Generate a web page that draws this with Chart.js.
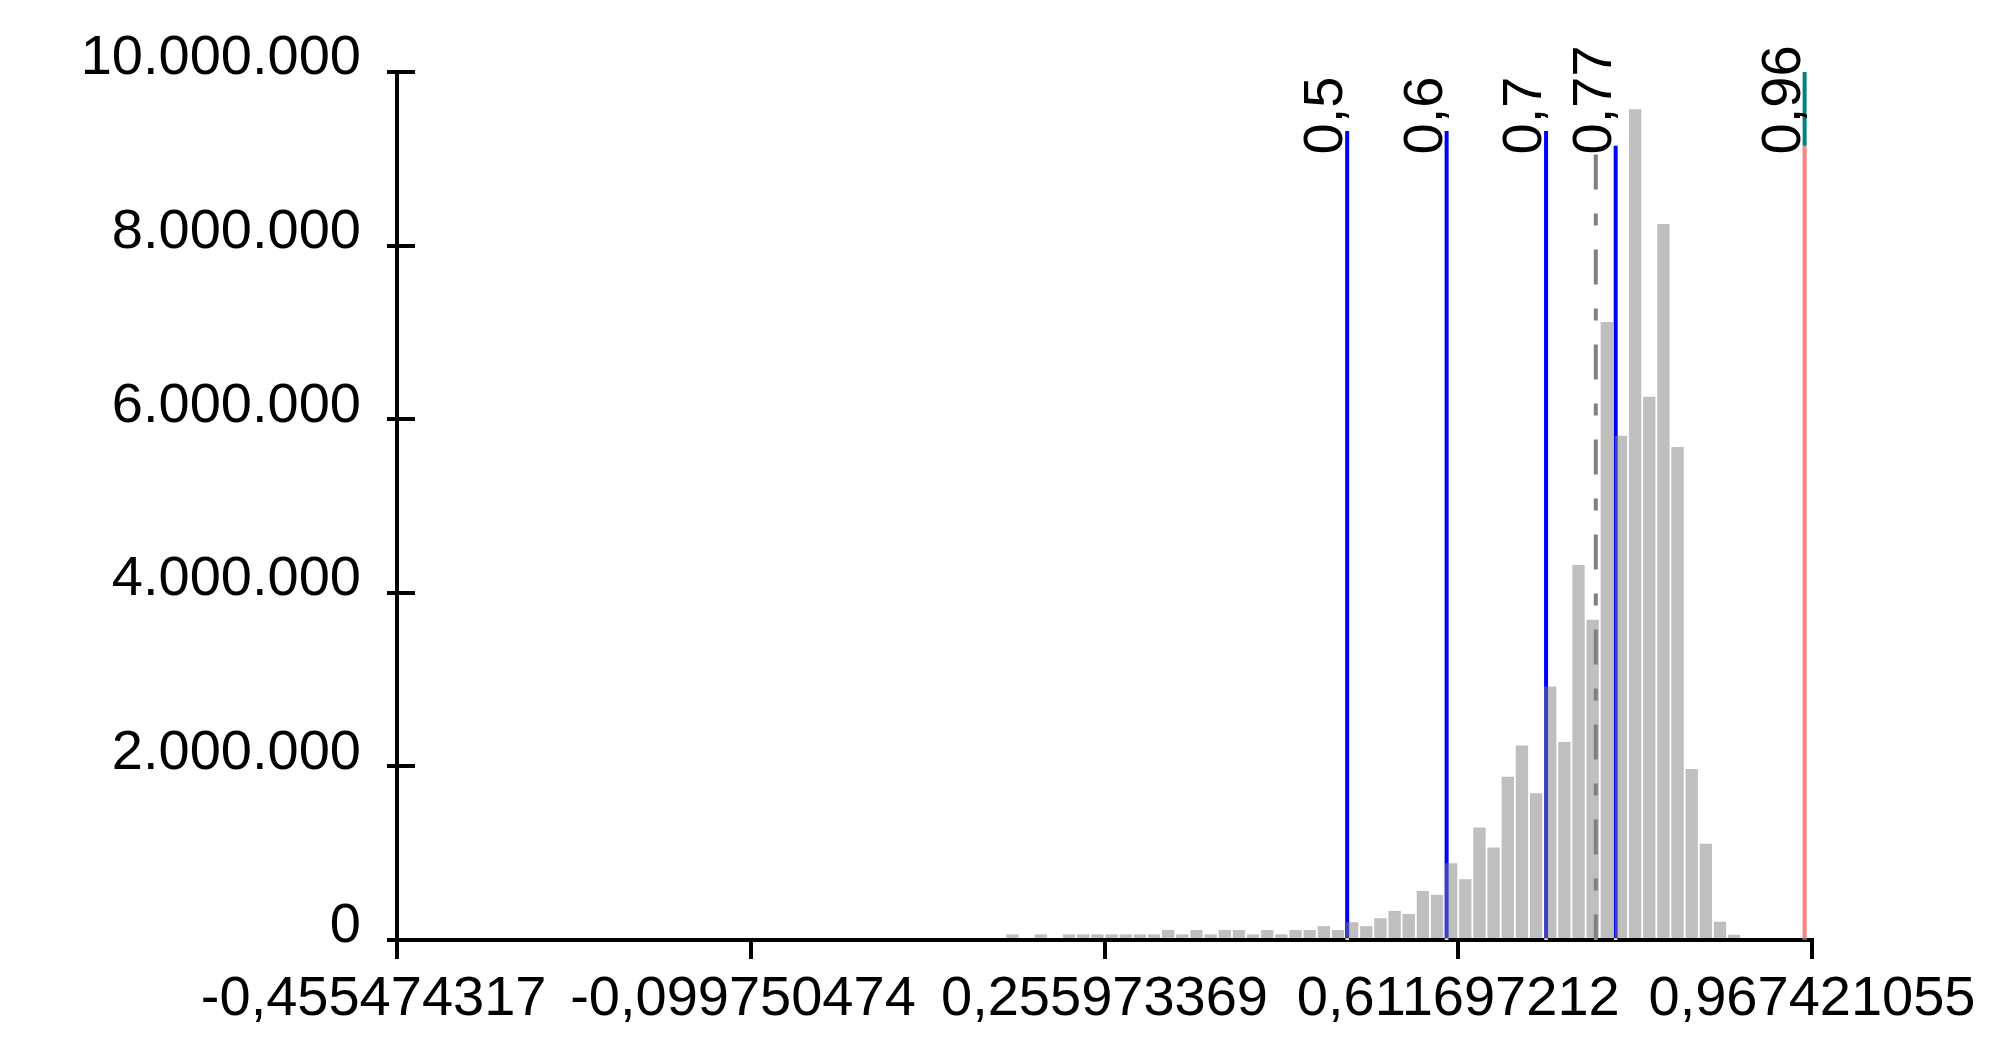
<!DOCTYPE html>
<html>
<head>
<meta charset="utf-8">
<script src="https://cdn.jsdelivr.net/npm/chart.js@4.4.1/dist/chart.umd.min.js"></script>
<style>
  html, body { margin: 0; padding: 0; background: #fff; }
</style>
</head>
<body>
<canvas id="chart" width="2002" height="1045"></canvas>
<script>
// histogram: 100 equal bins between the axis limits, only the occupied bins listed
const xMin = -0.455474317;
const xMax = 0.967421055;
const binTotal = 100;
const firstBin = 43;
const binCounts = [
  65000, 0, 65000, 0, 65000, 65000, 65000, 65000, 65000, 65000,
  65000, 115000, 65000, 115000, 65000, 115000, 115000, 65000, 115000, 65000,
  115000, 115000, 160000, 115000, 205000, 160000, 250000, 335000, 300000, 565000,
  520000, 885000, 700000, 1295000, 1065000, 1880000, 2240000, 1690000, 2920000, 2280000,
  4320000, 3690000, 7120000, 5810000, 9570000, 6260000, 8250000, 5680000, 1970000, 1110000,
  210000, 60000
];

const xTickValues = [-0.455474317, -0.099750474, 0.255973369, 0.611697212, 0.967421055];
const xTickLabels = ['-0,455474317', '-0,099750474', '0,255973369', '0,611697212', '0,967421055'];
const xLabelPad = [3, 1, 0, 0, 0];   // trailing spaces: the negative labels sit a bit left of their tick

// vertical reference lines
const markerValues = [0.5, 0.6, 0.7, 0.77, 0.96];
const markerLabels = ['0,5', '0,6', '0,7', '0,77', '0,96'];
const markerTops = [9320000, 9320000, 9320000, 9150000, 9150000];
const capRange = [9150000, 10000000];   // teal part on top of the 0,96 line
const meanValue = 0.75;
const meanTop = 9050000;
const labelBase = 9050000;

const FONT = '"Liberation Sans", Arial, sans-serif';
const markerColors = ['#0000ff', '#0000ff', '#0000ff', '#0000ff', '#ff8080'];
const footColors = ['#ffff00', '#ffff00', '#ffff00', '#ffff00', '#008080'];

const binWidth = (xMax - xMin) / binTotal;
const fmt = (v) => String(v).replace(/\B(?=(\d{3})+(?!\d))/g, '.');

Chart.defaults.font.family = FONT;
Chart.defaults.font.size = 56;
Chart.defaults.color = '#000';

const crossTicks = {
  id: 'crossTicks',
  afterDatasetsDraw(chart) {
    const { ctx, scales: { y } } = chart;
    ctx.save();
    ctx.strokeStyle = '#000';
    ctx.lineWidth = 4;
    y.ticks.forEach((t) => {
      const py = Math.round(y.getPixelForValue(t.value));
      ctx.beginPath();
      ctx.moveTo(y.right, py);
      ctx.lineTo(y.right + 18, py);
      ctx.stroke();
    });
    ctx.restore();
  },
};

const markerText = {
  id: 'markerText',
  afterDatasetsDraw(chart) {
    const { ctx, scales: { x, y } } = chart;
    ctx.save();
    ctx.font = '56px ' + FONT;
    ctx.fillStyle = '#000';
    ctx.textAlign = 'left';
    ctx.textBaseline = 'alphabetic';
    markerValues.forEach((v, i) => {
      ctx.save();
      ctx.translate(x.getPixelForValue(v) - 5, y.getPixelForValue(labelBase));
      ctx.rotate(-Math.PI / 2);
      ctx.fillText(markerLabels[i], 0, 0);
      ctx.restore();
    });
    ctx.restore();
  },
};

const datasets = [
  {
    type: 'bar',
    data: binCounts.map((c, i) => ({ x: xMin + (firstBin + i + 0.5) * binWidth, y: c })),
    backgroundColor: 'rgba(128,128,128,0.5)',
    borderWidth: 0,
    categoryPercentage: 1,
    barPercentage: 0.87,
    order: 0,
  },
  ...markerValues.map((v, i) => ({
    type: 'line',
    data: [{ x: v, y: 0 }, { x: v, y: markerTops[i] }],
    borderColor: markerColors[i],
    borderWidth: 4,
    pointRadius: [2.5, 0],
    pointStyle: 'rect',
    pointBackgroundColor: footColors[i],
    pointBorderWidth: 0,
    order: 1,
  })),
  {
    type: 'line',
    data: [{ x: 0.96, y: capRange[0] }, { x: 0.96, y: capRange[1] }],
    borderColor: '#008080',
    borderWidth: 4,
    pointRadius: 0,
    order: 1,
  },
  {
    type: 'line',
    data: [{ x: meanValue, y: meanTop }, { x: meanValue, y: 0 }],
    borderColor: '#808080',
    borderWidth: 4,
    borderDash: [35, 24, 12, 24],
    pointRadius: 0,
    order: 1,
  },
];

new Chart(document.getElementById('chart'), {
  type: 'bar',
  data: { datasets },
  plugins: [crossTicks, markerText],
  options: {
    responsive: false,
    animation: false,
    layout: { padding: { top: 72, right: 190, left: 0, bottom: 0 } },
    plugins: { legend: { display: false }, tooltip: { enabled: false } },
    scales: {
      x: {
        type: 'linear',
        min: xMin,
        max: xMax,
        offset: false,
        afterBuildTicks: (s) => { s.ticks = xTickValues.map((v) => ({ value: v })); },
        afterFit: (s) => { s.height = 105; },
        ticks: {
          autoSkip: false,
          maxRotation: 0,
          minRotation: 0,
          padding: 7,
          callback: (v, i) => xTickLabels[i] + ' '.repeat(xLabelPad[i]),
        },
        grid: { offset: false, drawOnChartArea: false, tickLength: 19, color: '#000', lineWidth: 4 },
        border: { color: '#000', width: 4 },
      },
      y: {
        min: 0,
        max: 10000000,
        afterFit: (s) => { s.width = 397; },
        ticks: { stepSize: 2000000, padding: 26, labelOffset: -13, callback: (v) => fmt(v) },
        grid: { drawOnChartArea: false, tickLength: 10, color: '#000', lineWidth: 4 },
        border: { color: '#000', width: 4 },
      },
    },
  },
});
</script>
</body>
</html>
